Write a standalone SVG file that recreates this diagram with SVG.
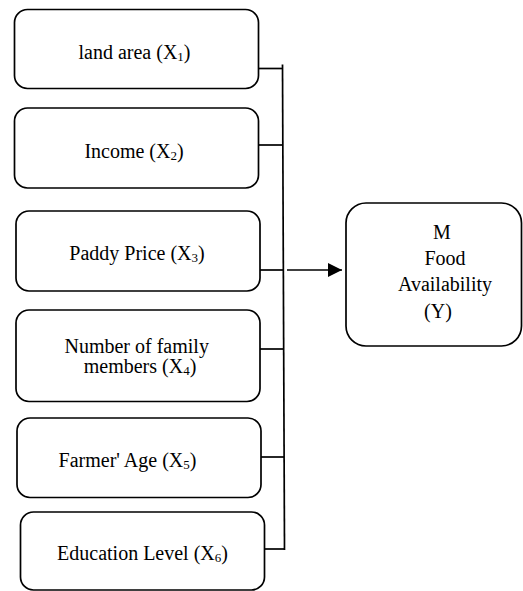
<svg xmlns="http://www.w3.org/2000/svg" width="523" height="591" viewBox="0 0 523 591">
<defs>
<style>
.box{fill:#fff;stroke:#000;stroke-width:1.7}
.t{font-family:"Liberation Serif","Times New Roman",serif;font-size:20px;fill:#000;text-anchor:middle}
.s{font-size:13px}
.ln{stroke:#000;stroke-width:1.7;fill:none}
</style>
<marker id="ah" viewBox="0 0 14 14" refX="14" refY="7" markerWidth="14" markerHeight="14" markerUnits="userSpaceOnUse" orient="auto">
<path d="M0,0 L14,7 L0,14 Z" fill="#000"/>
</marker>
</defs>
<rect width="523" height="591" fill="#fff"/>
<g id="connectors">
<line class="ln" x1="282.5" y1="64.5" x2="284.5" y2="550"/>
<line class="ln" x1="258" y1="68.5" x2="283" y2="68.5"/>
<line class="ln" x1="258" y1="145" x2="283" y2="145"/>
<line class="ln" x1="260" y1="270" x2="283.5" y2="270"/>
<line class="ln" x1="260" y1="349" x2="284" y2="349"/>
<line class="ln" x1="261" y1="457" x2="284" y2="457"/>
<line class="ln" x1="264" y1="549" x2="284.5" y2="549"/>
<line class="ln" x1="287" y1="270" x2="342" y2="270" marker-end="url(#ah)"/>
</g>
<g id="x1">
<rect class="box" x="14.5" y="9.5" width="244" height="79" rx="13"/>
<text class="t" x="134.5" y="59">land area (X<tspan class="s" dy="2">1</tspan><tspan dy="-2">)</tspan></text>
</g>
<g id="x2">
<rect class="box" x="14.5" y="108" width="244" height="80" rx="13"/>
<text class="t" x="134" y="158">Income (X<tspan class="s" dy="2">2</tspan><tspan dy="-2">)</tspan></text>
</g>
<g id="x3">
<rect class="box" x="16" y="211" width="244" height="80" rx="13"/>
<text class="t" x="137" y="259.5">Paddy Price (X<tspan class="s" dy="2">3</tspan><tspan dy="-2">)</tspan></text>
</g>
<g id="x4">
<rect class="box" x="16" y="310" width="244" height="91.5" rx="13"/>
<text class="t" x="136.7" y="352.5">Number of family</text>
<text class="t" x="140" y="373">members (X<tspan class="s" dy="2">4</tspan><tspan dy="-2">)</tspan></text>
</g>
<g id="x5">
<rect class="box" x="17" y="418" width="244" height="79.5" rx="13"/>
<text class="t" x="127.5" y="467">Farmer' Age (X<tspan class="s" dy="2">5</tspan><tspan dy="-2">)</tspan></text>
</g>
<g id="x6">
<rect class="box" x="20.5" y="512" width="244" height="78" rx="13"/>
<text class="t" x="142.5" y="560">Education Level (X<tspan class="s" dy="2">6</tspan><tspan dy="-2">)</tspan></text>
</g>
<g id="y">
<rect class="box" x="346" y="203" width="175.5" height="143" rx="20"/>
<text class="t" x="442" y="239">M</text>
<text class="t" x="445" y="265">Food</text>
<text class="t" x="445" y="291">Availability</text>
<text class="t" x="438" y="318">(Y)</text>
</g>
</svg>
